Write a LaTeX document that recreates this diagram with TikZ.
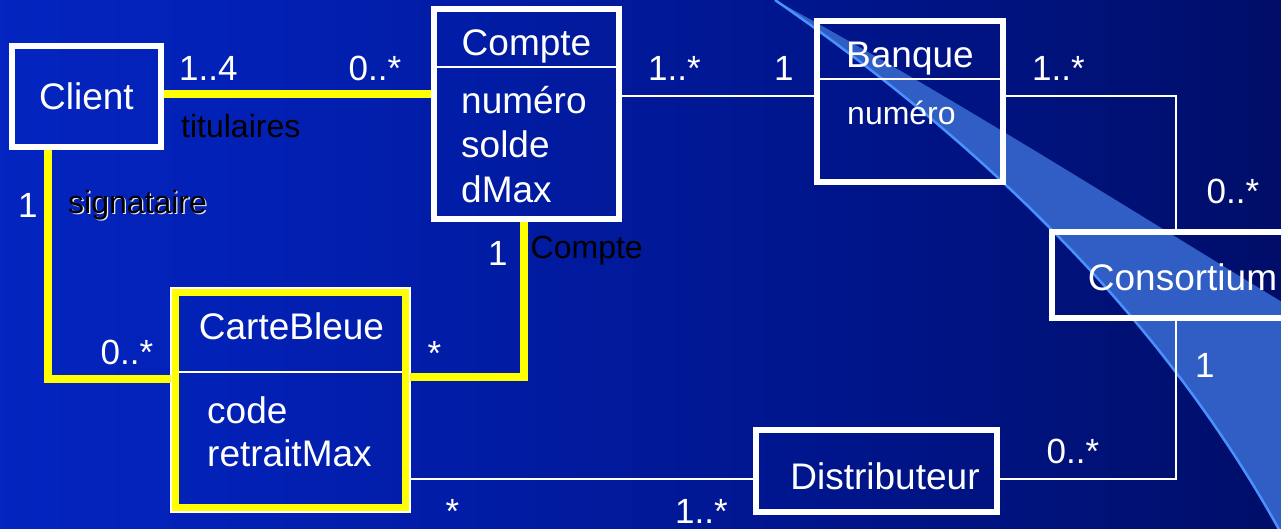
\documentclass[tikz,border=0pt]{standalone}
\usepackage{fontspec}
\setmainfont{Liberation Sans}
\definecolor{bgA}{RGB}{8,48,220}
\definecolor{bgB}{RGB}{2,32,180}
\definecolor{bgC}{RGB}{0,20,135}
\definecolor{bgD}{RGB}{0,10,85}
\definecolor{bgE}{RGB}{0,4,50}
\definecolor{swfillc}{RGB}{48,94,196}
\definecolor{swlinec}{RGB}{74,144,255}
\definecolor{yel}{RGB}{255,255,0}
\pgfdeclarehorizontalshading{bgshade}{100bp}{color(0bp)=(bgA); color(35bp)=(bgB); color(60bp)=(bgC); color(85bp)=(bgD); color(100bp)=(bgE)}
\newcommand{\mainfs}{\fontsize{37pt}{44pt}\selectfont}
\newcommand{\multfs}{\fontsize{35pt}{42pt}\selectfont}
\newcommand{\rolefs}{\fontsize{32pt}{38pt}\selectfont}
\begin{document}
\begin{tikzpicture}[x=1pt,y=-1pt,
  box/.style={draw=white, line width=6pt, rectangle, inner sep=0pt, text=white, font=\mainfs},
  ybox/.style={draw=yel, line width=8pt, rectangle, inner sep=0pt},
  cls/.style={anchor=base, inner sep=0pt, text=white, font=\mainfs},
  attr/.style={anchor=base west, inner sep=0pt, text=white, font=\mainfs},
  mult/.style={anchor=base west, inner sep=0pt, text=white, font=\multfs},
  role/.style={anchor=base west, inner sep=0pt, text=black, font=\rolefs},
  roleshadow/.style={role, text=white!85!gray},
  assoc/.style={draw=white, line width=2pt},
  hl/.style={draw=yel, line width=7.5pt},
  div/.style={draw=white, line width=2pt},
  swfill/.style={fill=swfillc},
  swline/.style={draw=swlinec, line width=2.5pt}
]
\useasboundingbox (0,0) rectangle (1281,528);
\clip (0,0) rectangle (1281,528);
\fill[shading=bgshade] (0,0) rectangle (1281,528);
% swoosh
\fill[swfill] (775,0) .. controls (1003.7,158) and (1172.3,335.7) .. (1281,533) -- (1300,533) -- (1300,313) .. controls (1150,222) and (950,95) .. (775,0) -- cycle;
\draw[swline] (775,0) .. controls (1003.7,158) and (1172.3,335.7) .. (1281,533);

% classes
\node[box, minimum width=149pt, minimum height=101pt] (client) at (86.5,96.5) {Client};

\node[box, minimum width=185pt, minimum height=210pt] (compte) at (526.5,114) {};
\draw[div] ([yshift=-61pt]compte.north west) -- ([yshift=-61pt]compte.north east);
\node[cls] (compteT) at (526.5,55) {Compte};
\node[attr] (cnum) at (461,113) {numéro};
\node[attr] (csol) at (461,157) {solde};
\node[attr] (cdmax) at (461,202) {dMax};

\node[box, minimum width=186pt, minimum height=161pt] (banque) at (910,101.5) {};
\draw[div] ([yshift=-61pt]banque.north west) -- ([yshift=-61pt]banque.north east);
\node[cls] (banqueT) at (910,67) {Banque};
\node[attr, font=\rolefs] (bnum) at (847,124) {numéro};

\node[box, minimum width=248pt, minimum height=86pt] (consortium) at (1176,275) {};
\node[cls] (consT) at (1182.5,290) {Consortium};

\node[box, minimum width=241pt, minimum height=82pt] (distrib) at (876.5,471) {};
\node[cls] (distT) at (885,489) {Distributeur};

\node[ybox, minimum width=231pt, minimum height=216pt] (carte) at (290.5,400) {};
\draw[white, line width=1.2pt] (carte.south west) rectangle (carte.north east);
\draw[div] ([xshift=8pt,yshift=-84pt]carte.north west) -- ([xshift=-8pt,yshift=-84pt]carte.north east);
\node[cls] (carteT) at (291.5,339) {CarteBleue};
\node[attr] (code) at (207,423) {code};
\node[attr] (rmax) at (207,466) {retraitMax};

% connectors
\draw[hl] ([yshift=2.5pt]client.east) -- ([yshift=20pt]compte.west);
\draw[hl] ([xshift=-38.5pt]client.south) |- ([yshift=21pt]carte.west);
\draw[hl] ([xshift=-2.5pt]compte.south) |- ([yshift=23pt]carte.east);
\draw[assoc] ([yshift=18.5pt]compte.east) -- ([yshift=6pt]banque.west);
\draw[assoc] ([yshift=6pt]banque.east) -| (consortium.north);
\draw[assoc] (consortium.south) |- ([yshift=-8pt]distrib.east);
\draw[assoc] ([yshift=-79pt]carte.east) -- ([yshift=-8pt]distrib.west);

% labels
\node[mult] (m1) at (179,80.5) {1..4};
\node[mult] (m2) at (348.5,80) {0..*};
\node[role] (r1) at (181,137) {titulaires};
\node[mult] (m3) at (18,217) {1};
\node[roleshadow] (r2s) at (69.3,214.3) {signataire};
\node[role] (r2) at (68,213) {signataire};
\node[mult] (m4) at (100.5,364) {0..*};
\node[mult] (m5) at (427.5,365) {*};
\node[mult] (m6) at (488,265) {1};
\node[role] (r3) at (530.5,258) {Compte};
\node[mult] (m7) at (648,80) {1..*};
\node[mult] (m8) at (774,80) {1};
\node[mult] (m9) at (1032,80) {1..*};
\node[mult] (m10) at (1206.5,203) {0..*};
\node[mult] (m11) at (1195,377) {1};
\node[mult] (m12) at (1046.5,463) {0..*};
\node[mult] (m13) at (445.5,523) {*};
\node[mult] (m14) at (675,523) {1..*};
\end{tikzpicture}
\end{document}
